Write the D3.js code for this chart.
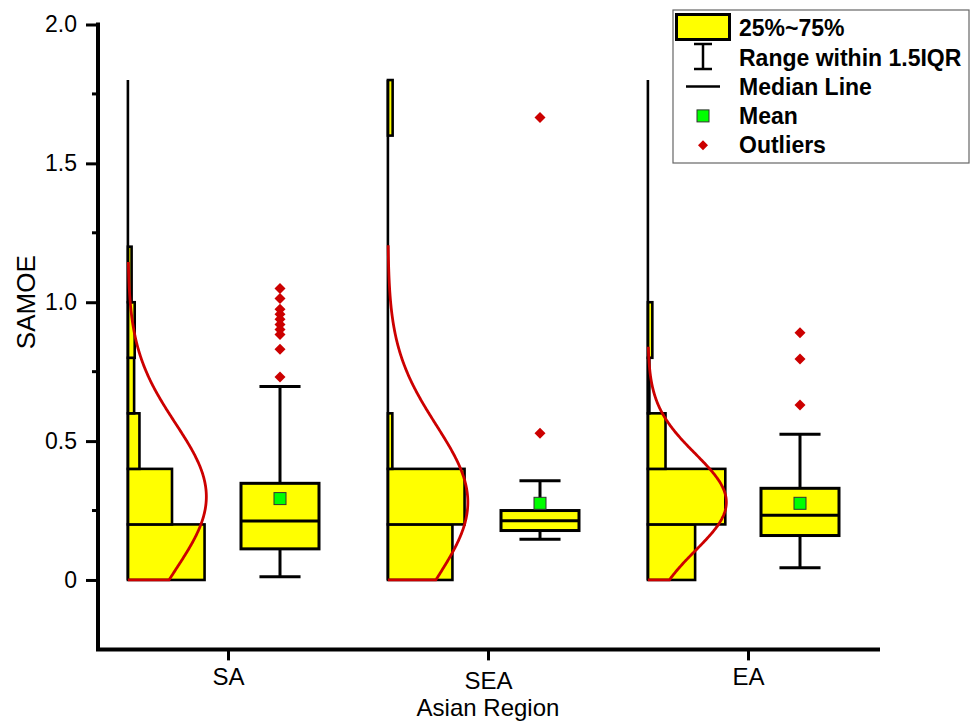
<!DOCTYPE html>
<html>
<head>
<meta charset="utf-8">
<script src="https://cdn.jsdelivr.net/npm/d3@7"></script>
<style>
  body { margin: 0; background: #fff; }
  text { font-family: "Liberation Sans", Arial, sans-serif; }
</style>
</head>
<body>
<div id="chart"></div>
<script>
// ---- data ----
var regions = ["SA", "SEA", "EA"];
var binEdges = [0, 0.2, 0.4, 0.6, 0.8, 1.0, 1.2, 1.4, 1.6, 1.8];

// histogram bars (percent of samples in each 0.2 bin)
var histSA  = [51.8, 29.8, 7.8, 4.2, 4.6, 2.5, 0, 0, 0];
var histSEA = [43.6, 51.8, 3.0, 0, 0, 0, 0, 0, 3.2];
var histEA  = [31.9, 52.3, 11.9, 1.0, 3.0, 0, 0, 0, 0];

// box statistics, one value per region
var q1Values     = [0.112, 0.178, 0.160];
var medianValues = [0.212, 0.213, 0.233];
var q3Values     = [0.348, 0.250, 0.330];
var whiskerLow   = [0.012, 0.147, 0.044];
var whiskerHigh  = [0.697, 0.357, 0.525];
var meanValues   = [0.293, 0.276, 0.276];

var outliersSA  = [1.049, 1.013, 0.975, 0.957, 0.939, 0.920, 0.902, 0.884, 0.831, 0.731];
var outliersSEA = [1.665, 0.528];
var outliersEA  = [0.890, 0.796, 0.630];

// normal curve fitted on each histogram
var curveMean = [0.30, 0.28, 0.28];
var curveSD   = [0.264, 0.277, 0.174];
var curvePeak = [53, 54, 53];      // percent, same units as the bars
var curveTop  = [1.145, 1.205, 0.84];

var yTicks = [0, 0.5, 1.0, 1.5, 2.0];
var yMinorTicks = [0.25, 0.75, 1.25, 1.75];
var legendLabels = ["25%~75%", "Range within 1.5IQR", "Median Line", "Mean", "Outliers"];

var histData = [histSA, histSEA, histEA];
var outlierData = [outliersSA, outliersSEA, outliersEA];

// ---- canvas ----
var width = 977, height = 722;
var svg = d3.select("#chart")
    .append("svg")
    .attr("width", width)
    .attr("height", height);

var xScale = d3.scaleLinear().domain([0.5, 3.5]).range([98, 878]);
var yScale = d3.scaleLinear().domain([-0.25, 2.0]).range([649.4, 24.5]);
// percent -> pixel width of histogram bars
var wScale = d3.scaleLinear().domain([0, 100]).range([0, 148]);

var histOffset = -0.385, boxOffset = 0.2, boxWidth = 0.3, capWidth = 0.158;
var yellow = "#ffff00", red = "#cc0000", green = "#00ff00";

// ---- histograms ----
regions.forEach(function(r, i) {
    var left = xScale(i + 1 + histOffset);
    var g = svg.append("g").attr("class", "hist");

    g.selectAll("rect")
        .data(histData[i].map(function(v, j) { return {v: v, lo: binEdges[j], hi: binEdges[j + 1]}; })
                .filter(function(d) { return d.v > 0; }))
        .enter()
        .append("rect")
        .attr("x", left)
        .attr("y", function(d) { return yScale(d.hi); })
        .attr("width", function(d) { return wScale(d.v); })
        .attr("height", function(d) { return yScale(d.lo) - yScale(d.hi); })
        .attr("fill", yellow)
        .attr("stroke", "#000")
        .attr("stroke-width", 2.6);

    // empty bins show as a line along the left edge
    g.append("line")
        .attr("x1", left).attr("x2", left)
        .attr("y1", yScale(binEdges[0])).attr("y2", yScale(binEdges[binEdges.length - 1]))
        .attr("stroke", "#000")
        .attr("stroke-width", 2.6);

    // normal curve
    var pts = [[0, 0]];
    d3.range(0, curveTop[i] + 0.0001, 0.005).forEach(function(v) {
        var z = (v - curveMean[i]) / curveSD[i];
        pts.push([curvePeak[i] * Math.exp(-0.5 * z * z), v]);
    });
    var line = d3.line()
        .x(function(d) { return left + wScale(d[0]); })
        .y(function(d) { return yScale(d[1]); });
    g.append("path")
        .attr("d", line(pts))
        .attr("fill", "none")
        .attr("stroke", red)
        .attr("stroke-width", 2.8);
});

// ---- box plots ----
regions.forEach(function(r, i) {
    var cx = xScale(i + 1 + boxOffset);
    var bx0 = xScale(i + 1 + boxOffset - boxWidth / 2);
    var bx1 = xScale(i + 1 + boxOffset + boxWidth / 2);
    var cw = (xScale(capWidth) - xScale(0)) / 2;
    var g = svg.append("g").attr("class", "box");

    // whiskers
    g.append("line").attr("x1", cx).attr("x2", cx)
        .attr("y1", yScale(q3Values[i])).attr("y2", yScale(whiskerHigh[i]));
    g.append("line").attr("x1", cx).attr("x2", cx)
        .attr("y1", yScale(q1Values[i])).attr("y2", yScale(whiskerLow[i]));
    g.append("line").attr("x1", cx - cw).attr("x2", cx + cw)
        .attr("y1", yScale(whiskerHigh[i])).attr("y2", yScale(whiskerHigh[i]));
    g.append("line").attr("x1", cx - cw).attr("x2", cx + cw)
        .attr("y1", yScale(whiskerLow[i])).attr("y2", yScale(whiskerLow[i]));
    g.selectAll("line").attr("stroke", "#000").attr("stroke-width", 3);

    g.append("rect")
        .attr("x", bx0)
        .attr("y", yScale(q3Values[i]))
        .attr("width", bx1 - bx0)
        .attr("height", yScale(q1Values[i]) - yScale(q3Values[i]))
        .attr("fill", yellow)
        .attr("stroke", "#000")
        .attr("stroke-width", 3);

    g.append("line")
        .attr("x1", bx0).attr("x2", bx1)
        .attr("y1", yScale(medianValues[i])).attr("y2", yScale(medianValues[i]))
        .attr("stroke", "#000").attr("stroke-width", 3);

    g.append("rect")
        .attr("x", cx - 6).attr("y", yScale(meanValues[i]) - 6)
        .attr("width", 12).attr("height", 12)
        .attr("fill", green).attr("stroke", "#333").attr("stroke-width", 1);

    g.selectAll("path.outlier")
        .data(outlierData[i])
        .enter()
        .append("path")
        .attr("class", "outlier")
        .attr("d", function(d) {
            var y = yScale(d);
            return "M" + cx + "," + (y - 5.5) + "L" + (cx + 5.5) + "," + y +
                   "L" + cx + "," + (y + 5.5) + "L" + (cx - 5.5) + "," + y + "Z";
        })
        .attr("fill", red);
});

// ---- axes ----
var yAxis = d3.axisLeft(yScale)
    .tickValues(yTicks)
    .tickSize(12)
    .tickPadding(9)
    .tickFormat(function(d) { return d === 0 ? "0" : d.toFixed(1); });
var yAxisG = svg.append("g")
    .attr("transform", "translate(" + xScale(0.5) + ",0)")
    .call(yAxis);
yAxisG.select(".domain").remove();
yAxisG.selectAll("line").attr("stroke-width", 3);
yAxisG.selectAll("text").attr("font-size", "23px").attr("fill", "#000")
    .attr("font-family", "Liberation Sans, Arial, sans-serif");

svg.append("g").selectAll("line")
    .data(yMinorTicks)
    .enter()
    .append("line")
    .attr("x1", xScale(0.5) - 6).attr("x2", xScale(0.5))
    .attr("y1", function(d) { return yScale(d); })
    .attr("y2", function(d) { return yScale(d); })
    .attr("stroke", "#000").attr("stroke-width", 3);

var xAxis = d3.axisBottom(xScale)
    .tickValues([1, 2, 3])
    .tickSize(11)
    .tickPadding(8)
    .tickFormat(function(d) { return regions[d - 1]; });
var xAxisG = svg.append("g")
    .attr("transform", "translate(0," + yScale(-0.25) + ")")
    .call(xAxis);
xAxisG.select(".domain").remove();
xAxisG.selectAll("line").attr("stroke-width", 3);
xAxisG.selectAll("text").attr("font-size", "24px").attr("fill", "#000")
    .attr("font-family", "Liberation Sans, Arial, sans-serif")
    .attr("dy", function(d) { return d === 2 ? "0.87em" : "0.7em"; });

// axis lines
svg.append("path")
    .attr("d", "M" + xScale(0.5) + "," + yScale(2.0) + "V" + yScale(-0.25) + "H" + xScale(3.5))
    .attr("fill", "none")
    .attr("stroke", "#000")
    .attr("stroke-width", 4)
    .attr("stroke-linecap", "square");

// axis titles
svg.append("text")
    .attr("transform", "translate(35," + yScale(1.0) + ") rotate(-90)")
    .attr("text-anchor", "middle")
    .attr("font-size", "26px")
    .text("SAMOE");

svg.append("text")
    .attr("x", xScale(2))
    .attr("y", 716)
    .attr("text-anchor", "middle")
    .attr("font-size", "24px")
    .text("Asian Region");

// ---- legend ----
var legend = svg.append("g").attr("class", "legend");
legend.append("rect")
    .attr("x", 673).attr("y", 10).attr("width", 296).attr("height", 153)
    .attr("fill", "#fff").attr("stroke", "#666").attr("stroke-width", 1.2);

var rowY = d3.range(legendLabels.length).map(function(k) { return 28 + k * 29.3; });
legend.selectAll("text")
    .data(legendLabels)
    .enter()
    .append("text")
    .attr("x", 739)
    .attr("y", function(d, k) { return rowY[k]; })
    .attr("dy", "0.36em")
    .attr("font-size", "23px")
    .attr("font-weight", "bold")
    .text(function(d) { return d; });

var iconX = 703;
legend.append("rect")
    .attr("x", 676.5).attr("y", 14.5).attr("width", 53).attr("height", 25)
    .attr("fill", yellow).attr("stroke", "#000").attr("stroke-width", 3);
legend.append("line").attr("x1", iconX).attr("x2", iconX).attr("y1", 44).attr("y2", 69);
legend.append("line").attr("x1", iconX - 9).attr("x2", iconX + 9).attr("y1", 44).attr("y2", 44);
legend.append("line").attr("x1", iconX - 9).attr("x2", iconX + 9).attr("y1", 69).attr("y2", 69);
legend.append("line").attr("x1", iconX - 17).attr("x2", iconX + 17).attr("y1", rowY[2]).attr("y2", rowY[2]);
legend.selectAll("line").attr("stroke", "#000").attr("stroke-width", 2.5);
legend.append("rect")
    .attr("x", iconX - 6).attr("y", rowY[3] - 6).attr("width", 12).attr("height", 12)
    .attr("fill", green).attr("stroke", "#333").attr("stroke-width", 1);
legend.append("path")
    .attr("d", "M" + iconX + "," + (rowY[4] - 5) + "l5,5l-5,5l-5,-5z")
    .attr("fill", red);
</script>
</body>
</html>
